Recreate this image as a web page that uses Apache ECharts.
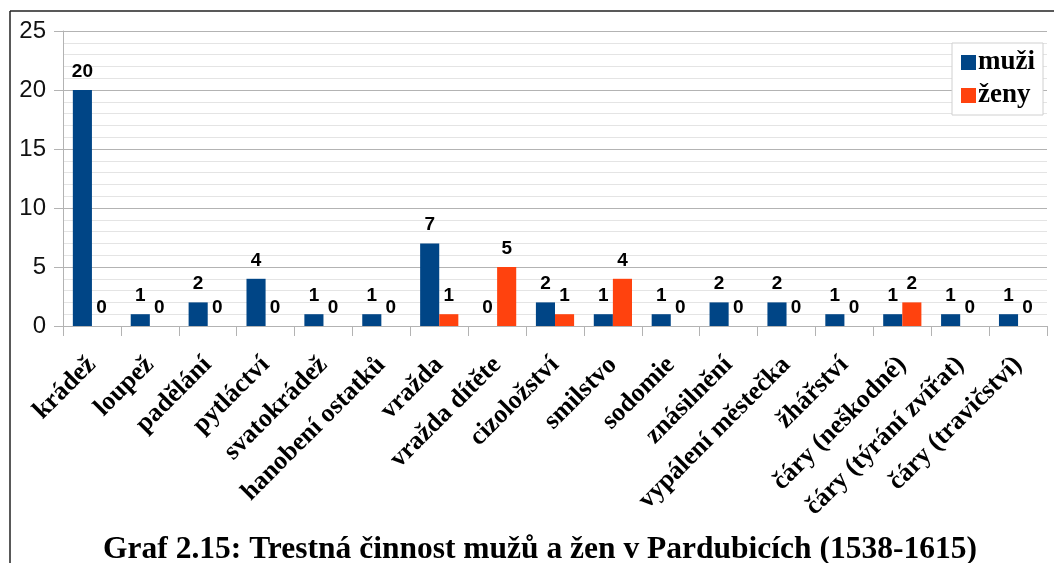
<!DOCTYPE html>
<html>
<head>
<meta charset="utf-8">
<script src="https://cdn.jsdelivr.net/npm/echarts@6/dist/echarts.min.js"></script>
<style>
  html, body { margin: 0; padding: 0; background: #fff; }
  #chart { width: 1054px; height: 563px; }
</style>
</head>
<body>
<div id="chart"></div>
<script>
// kategorie trestných činů
const categories = ['krádež', 'loupež', 'padělání', 'pytláctví', 'svatokrádež', 'hanobení ostatků',
  'vražda', 'vražda dítěte', 'cizoložství', 'smilstvo', 'sodomie', 'znásilnění',
  'vypálení městečka', 'žhářství', 'čáry (neškodné)', 'čáry (týrání zvířat)', 'čáry (travičství)']
const muzi = [20, 1, 2, 4, 1, 1, 7, 0, 2, 1, 1, 2, 2, 1, 1, 1, 1]
const zeny = [0, 0, 0, 0, 0, 0, 1, 5, 1, 4, 0, 0, 0, 0, 2, 0, 0]
const yTicks = [0, 5, 10, 15, 20, 25]

const serif = '"Liberation Serif", "DejaVu Serif", serif'
const sans = '"Liberation Sans", Arial, sans-serif'

const valueLabel = {
  show: true,
  position: 'top',
  distance: 9,
  color: '#000',
  fontFamily: sans,
  fontWeight: 'bold',
  fontSize: 19,
}

const chart = echarts.init(document.getElementById('chart'), null, { renderer: 'canvas' })

chart.setOption({
  animation: false,
  backgroundColor: '#fff',
  title: {
    text: 'Graf 2.15: Trestná činnost mužů a žen v Pardubicích (1538-1615)',
    left: 535,
    textAlign: 'center',
    top: 529,
    textStyle: { fontFamily: serif, fontWeight: 'bold', fontSize: 31.5, color: '#000' },
  },
  legend: {
    orient: 'vertical',
    right: 11,
    top: 43,
    padding: [6, 8, 6, 9],
    itemGap: 6,
    itemWidth: 15,
    itemHeight: 15,
    icon: 'rect',
    borderColor: '#d0d0d0',
    borderWidth: 1,
    backgroundColor: '#fff',
    textStyle: { fontFamily: serif, fontWeight: 'bold', fontSize: 27, color: '#000', padding: [0, 0, 0, -3] },
    data: ['muži', 'ženy'],
  },
  grid: {
    left: 63,
    right: 7,
    top: 31,
    bottom: 237,
    containLabel: false,
  },
  xAxis: {
    type: 'category',
    data: categories,
    axisLine: { lineStyle: { color: '#b3b3b3', width: 1 } },
    axisTick: { show: true, length: 10, lineStyle: { color: '#b3b3b3' } },
    axisLabel: {
      rotate: 45,
      interval: 0,
      margin: 35,
      fontFamily: serif,
      fontWeight: 'bold',
      fontSize: 26,
      color: '#000',
    },
  },
  yAxis: {
    type: 'value',
    min: yTicks[0],
    max: yTicks[yTicks.length - 1],
    interval: 5,
    axisLine: { show: true, lineStyle: { color: '#b3b3b3' } },
    axisTick: { show: true, length: 9, lineStyle: { color: '#b3b3b3' } },
    axisLabel: { fontFamily: sans, fontSize: 24, color: '#111', margin: 17 },
    splitLine: { lineStyle: { color: '#b3b3b3', width: 1 } },
    minorTick: { show: false, splitNumber: 5 },
    minorSplitLine: { show: true, lineStyle: { color: '#e4e4e4', width: 1 } },
  },
  series: [
    {
      name: 'muži',
      type: 'bar',
      data: muzi,
      itemStyle: { color: '#004586' },
      barGap: '0%',
      barCategoryGap: '34%',
      label: valueLabel,
    },
    {
      name: 'ženy',
      type: 'bar',
      data: zeny,
      itemStyle: { color: '#ff420e' },
      label: valueLabel,
    },
  ],
  graphic: [
    // rámeček okolo grafu (vpravo a dole oříznutý)
    { type: 'line', silent: true, shape: { x1: 10, y1: 11, x2: 1054, y2: 11 }, style: { stroke: '#222', lineWidth: 1.5 } },
    { type: 'line', silent: true, shape: { x1: 10, y1: 11, x2: 10, y2: 563 }, style: { stroke: '#222', lineWidth: 1.5 } },
  ],
})
</script>
</body>
</html>
